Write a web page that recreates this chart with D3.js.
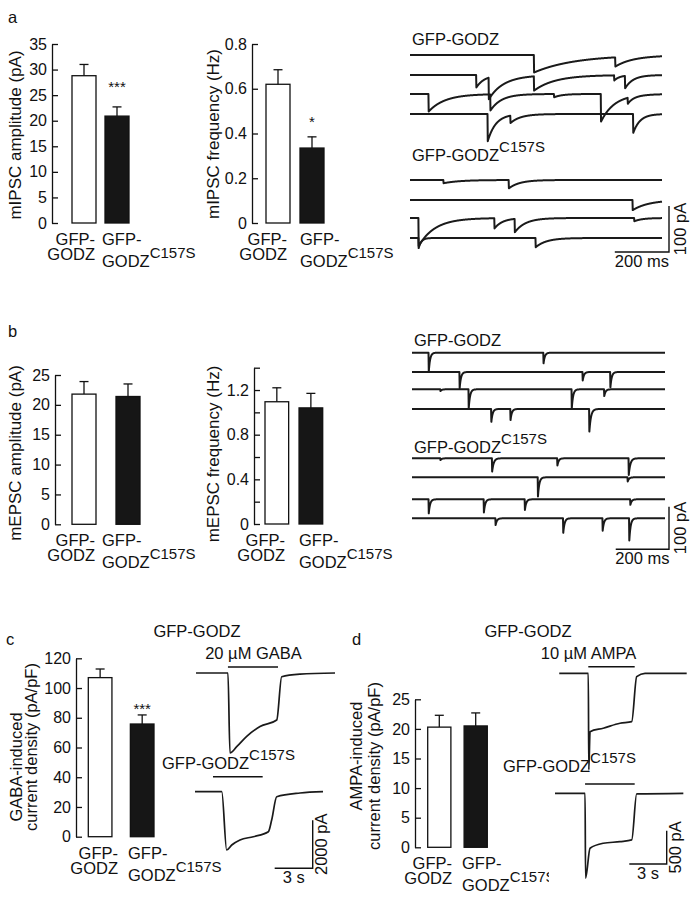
<!DOCTYPE html>
<html>
<head>
<meta charset="utf-8">
<script src="https://cdn.jsdelivr.net/npm/d3@7"></script>
<style>
  body { margin: 0; background: #fff; }
  svg { display: block; font-family: "Liberation Sans", Arial, Helvetica, sans-serif; }
  text { fill: #111; }
</style>
</head>
<body>
<svg id="fig" width="700" height="912"></svg>
<script>
const groups = ["GFP-GODZ", "GFP-GODZC157S"];

// bar heights (mean) and error bars (sem)
const mipscAmp = [28.8, 20.9], mipscAmpSem = [2.2, 1.8];
const mipscFreq = [0.62, 0.335], mipscFreqSem = [0.065, 0.05];
const mepscAmp = [21.8, 21.4], mepscAmpSem = [2.1, 2.1];
const mepscFreq = [1.095, 1.04], mepscFreqSem = [0.125, 0.13];
const gabaDensity = [107, 75.8], gabaDensitySem = [5.8, 6.1];
const ampaDensity = [20.3, 20.5], ampaDensitySem = [2.0, 2.2];

// axis ticks
const mipscAmpTicks = [0, 5, 10, 15, 20, 25, 30, 35];
const mipscFreqTicks = [0, 0.2, 0.4, 0.6, 0.8];
const mepscAmpTicks = [0, 5, 10, 15, 20, 25];
const mepscFreqTicks = [0, 0.2, 0.4, 0.6, 0.8, 1.0, 1.2, 1.4];
const mepscFreqLabels = ["0", "", "0.4", "", "0.8", "", "1.2", ""];
const gabaTicks = [0, 20, 40, 60, 80, 100, 120];
const ampaTicks = [0, 5, 10, 15, 20, 25];

// example sweeps: each event is [onset ms, amplitude pA, decay ms]
const mipscGodz = [
  [[457, 38, 150], [757, 20, 60]],
  [[244, 27, 30], [290, 47, 60], [457, 31, 80], [753, 11, 20], [793, 27, 30]],
  [[68, 38, 60], [296, 35, 40], [531, 7, 30], [704, 60, 50], [803, 13, 20]],
  [[286, 59, 30], [370, 16, 40], [823, 41, 25]]
];
const mipscMut = [
  [[123, 7, 60], [364, 18, 40]],
  [[821, 22, 60]],
  [[31, 61, 60], [311, 22, 30], [386, 29, 40], [827, 7, 30]],
  [[31, 22, 10], [463, 20, 40]]
];
const mepscGodz = [
  [[62, 45, 5], [493, 25, 5]],
  [[178, 38, 5], [640, 20, 5], [744, 36, 5]],
  [[106, 4, 5], [212, 45, 5], [599, 45, 5], [721, 16, 5]],
  [[297, 30, 5], [369, 26, 5], [665, 53, 6]]
];
const mepscMut = [
  [[106, 4, 5], [300, 31, 6], [545, 17, 5], [813, 39, 6]],
  [[472, 45, 5], [809, 10, 5]],
  [[62, 33, 5], [269, 31, 5], [423, 25, 5], [819, 13, 5]],
  [[313, 16, 5], [567, 34, 5], [715, 29, 5], [815, 52, 5]]
];

// whole-cell responses: [time s, current pA]
const gabaGodzTrace = [[0.08, 0], [2.60, 0], [2.76, -3333], [3.29, -3071], [4.08, -2640], [5.13, -2230],
  [6.45, -1958], [6.84, -154], [8.29, -50], [11.05, 0]];
const gabaMutTrace = [[0, 0], [2.11, 0], [2.50, -2429], [2.90, -2221], [3.55, -2013], [4.60, -1875],
  [5.79, -1667], [6.05, -1180], [6.45, -208], [8.29, -54], [10.1, 0]];
const ampaGodzTrace = [[0.34, 0], [2.67, 0], [2.71, -1450], [2.81, -876], [3.87, -825], [5.21, -750],
  [6.15, -726], [6.55, -51], [7.22, 0], [10.56, 0]];
const ampaMutTrace = [[0, 0], [2.41, 0], [2.45, -1275], [2.81, -825], [3.87, -750], [5.21, -726],
  [6.15, -700], [6.55, -10], [10.29, 0]];
// drug application periods [start s, end s]
const gabaApply = [[2.60, 6.55], [1.42, 5.34]];
const ampaApply = [[2.67, 6.39], [2.41, 6.39]];

const svg = d3.select("#fig");
const ink = "#111";

function label(x, y, txt, size, anchor) {
  return svg.append("text").attr("x", x).attr("y", y)
    .attr("font-size", size || 16.5)
    .attr("text-anchor", anchor || "start")
    .text(txt);
}

function supLabel(x, y, main, sup, size) {
  const t = svg.append("text").attr("x", x).attr("y", y).attr("font-size", size || 16.5);
  t.append("tspan").text(main);
  t.append("tspan").attr("dy", -9).attr("font-size", 15).text(sup);
  return t;
}

function barChart(c) {
  const g = svg.append("g");
  const y = d3.scaleLinear().domain([0, c.max]).range([c.y0, c.y1]);
  const x = d3.scaleBand().domain(groups).range(c.xr).paddingInner(c.pad);

  const ax = g.append("g")
    .attr("transform", `translate(${c.ax},0)`)
    .call(d3.axisLeft(y).tickValues(c.ticks)
      .tickFormat((d, i) => c.labels ? c.labels[i] : d)
      .tickSizeInner(-6).tickSizeOuter(0).tickPadding(5));
  ax.attr("font-size", 16).attr("font-family", null);
  ax.selectAll("path, line").attr("stroke", ink).attr("stroke-width", 1.3);
  ax.selectAll("text").attr("fill", ink);

  g.selectAll("rect.bar")
    .data(c.values)
    .join("rect")
    .attr("class", "bar")
    .attr("x", (d, i) => x(groups[i]))
    .attr("width", x.bandwidth())
    .attr("y", d => y(d))
    .attr("height", d => y(0) - y(d))
    .attr("fill", (d, i) => i === 0 ? "#fff" : "#161616")
    .attr("stroke", ink)
    .attr("stroke-width", 1.3);

  const err = g.selectAll("g.err")
    .data(c.values)
    .join("g")
    .attr("class", "err")
    .attr("stroke", ink)
    .attr("stroke-width", 1.3);
  err.append("line")
    .attr("x1", (d, i) => x(groups[i]) + x.bandwidth() / 2)
    .attr("x2", (d, i) => x(groups[i]) + x.bandwidth() / 2)
    .attr("y1", d => y(d))
    .attr("y2", (d, i) => y(d + c.sem[i]));
  err.append("line")
    .attr("x1", (d, i) => x(groups[i]) + x.bandwidth() / 2 - 4.5)
    .attr("x2", (d, i) => x(groups[i]) + x.bandwidth() / 2 + 4.5)
    .attr("y1", (d, i) => y(d + c.sem[i]))
    .attr("y2", (d, i) => y(d + c.sem[i]));

  if (c.stars) {
    label(x(groups[1]) + x.bandwidth() / 2, c.starY, c.stars, 15, "middle");
  }

  // group names under the bars
  label(c.labX[0], c.y0 + 22, "GFP-", 16.5, "end");
  label(c.labX[0], c.y0 + 37, "GODZ", 16.5, "end");
  label(c.labX[1], c.y0 + 22, "GFP-");
  const mut = supLabel(c.labX[1], c.y0 + 44, "GODZ", "C157S");
  if (c.clip) {
    svg.append("clipPath").attr("id", c.clip.id)
      .append("rect").attr("x", 0).attr("y", 0).attr("width", c.clip.w).attr("height", 912);
    mut.attr("clip-path", `url(#${c.clip.id})`);
  }

  c.ylab.forEach(l => {
    svg.append("text")
      .attr("transform", `translate(${l.x},${l.y}) rotate(-90)`)
      .attr("text-anchor", "middle")
      .attr("font-size", l.size || 17)
      .text(l.text);
  });
}

function eventSweep(events, dur) {
  const pts = [];
  for (let t = 0; t <= dur; t += 0.5) {
    let v = 0;
    for (const [t0, a, tau] of events) {
      if (t < t0) continue;
      const dt = t - t0;
      v -= dt < 1 ? a * dt : a * Math.exp(-(dt - 1) / tau);
    }
    pts.push([t, v]);
  }
  return pts;
}

function scaleBar(cx, cy, hLen, vLen, hText, vText, hTextY, vTextX) {
  svg.append("path")
    .attr("d", `M${cx - hLen},${cy}H${cx}V${cy - vLen}`)
    .attr("fill", "none").attr("stroke", ink).attr("stroke-width", 1.4);
  label(cx - hLen / 2, hTextY, hText, 16.5, "middle");
  svg.append("text")
    .attr("transform", `translate(${vTextX},${cy - vLen / 2}) rotate(-90)`)
    .attr("text-anchor", "middle").attr("font-size", 16.5)
    .text(vText);
}

function miniSweeps(p) {
  const x = d3.scaleLinear().domain([0, p.dur]).range(p.xr);
  const y = d3.scaleLinear().domain([0, 100]).range([0, p.px100]);
  [[p.godz, p.baseGodz], [p.mut, p.baseMut]].forEach(([set, bases]) => {
    set.forEach((ev, i) => {
      const line = d3.line().x(d => x(d[0])).y(d => bases[i] - y(d[1]));
      svg.append("path")
        .attr("d", line(eventSweep(ev, p.dur)))
        .attr("fill", "none").attr("stroke", "#1a1a1a")
        .attr("stroke-width", 2).attr("stroke-linejoin", "round");
    });
  });
  label(p.xr[0] + 2, p.titleY[0], "GFP-GODZ");
  supLabel(p.xr[0] + 2, p.titleY[1], "GFP-GODZ", "C157S");
  scaleBar(p.bar[0], p.bar[1], x(200) - x(0), y(100), "200 ms", "100 pA", p.bar[1] + 15, p.bar[0] + 17);
}

function wholeCell(p) {
  const x = d3.scaleLinear().domain([0, p.dur]).range(p.xr);
  const y = d3.scaleLinear().domain([0, 1000]).range([0, p.px1000]);
  const line = d3.line().curve(d3.curveMonotoneX);
  [[p.godz, p.bases[0]], [p.mut, p.bases[1]]].forEach(([tr, base], i) => {
    svg.append("path")
      .attr("d", line.x(d => x(d[0])).y(d => base - y(d[1]))(tr))
      .attr("fill", "none").attr("stroke", "#1a1a1a").attr("stroke-width", 1.7);
    svg.append("line")
      .attr("x1", x(p.apply[i][0])).attr("x2", x(p.apply[i][1]))
      .attr("y1", p.applyY[i]).attr("y2", p.applyY[i])
      .attr("stroke", ink).attr("stroke-width", 1.4);
  });
  scaleBar(p.bar[0], p.bar[1], x(3) - x(0), y(p.vUnit), "3 s", p.vUnit + " pA", p.bar[1] + 14.5, p.bar[0] + 14);
}

// ---- panel a ----
label(8, 23, "a", 16.5);
barChart({
  values: mipscAmp, sem: mipscAmpSem, max: 35, ticks: mipscAmpTicks,
  y0: 223, y1: 44, ax: 52, xr: [72, 129], pad: 9 / 33,
  stars: "***", starY: 92, labX: [95, 102],
  ylab: [{ text: "mIPSC amplitude (pA)", x: 21, y: 135 }]
});
barChart({
  values: mipscFreq, sem: mipscFreqSem, max: 0.8, ticks: mipscFreqTicks,
  y0: 223, y1: 44, ax: 252, xr: [266, 324], pad: 10 / 34,
  stars: "*", starY: 127, labX: [287, 300],
  ylab: [{ text: "mIPSC frequency (Hz)", x: 219, y: 134 }]
});
miniSweeps({
  godz: mipscGodz, mut: mipscMut, dur: 930, xr: [410, 662], px100: 46,
  baseGodz: [55, 75, 94, 114], baseMut: [180, 200, 218, 238],
  titleY: [45, 161], bar: [669, 252]
});

// ---- panel b ----
label(8, 337, "b", 16.5);
barChart({
  values: mepscAmp, sem: mepscAmpSem, max: 25, ticks: mepscAmpTicks,
  y0: 524.3, y1: 375, ax: 55, xr: [72, 140], pad: 20 / 44,
  labX: [95, 102],
  ylab: [{ text: "mEPSC amplitude (pA)", x: 21, y: 453 }]
});
barChart({
  values: mepscFreq, sem: mepscFreqSem, max: 1.4, ticks: mepscFreqTicks, labels: mepscFreqLabels,
  y0: 524, y1: 367.7, ax: 254, xr: [265, 322.7], pad: 0.305,
  labX: [285, 299],
  ylab: [{ text: "mEPSC frequency (Hz)", x: 219, y: 454 }]
});
miniSweeps({
  godz: mepscGodz, mut: mepscMut, dur: 950, xr: [412, 665], px100: 42.6,
  baseGodz: [352.7, 372, 389.3, 409], baseMut: [458.3, 477.3, 499.3, 518.3],
  titleY: [346, 452.7], bar: [669, 549.3]
});

// ---- panel c ----
label(6, 645, "c", 16.5);
barChart({
  values: gabaDensity, sem: gabaDensitySem, max: 120, ticks: gabaTicks,
  y0: 836.7, y1: 658.3, ax: 76, xr: [88.3, 154], pad: 0.438,
  stars: "***", starY: 714, labX: [118, 128],
  ylab: [{ text: "GABA-induced", x: 22, y: 767, size: 16.5 },
         { text: "current density (pA/pF)", x: 37, y: 747, size: 16.5 }]
});
label(197, 637, "GFP-GODZ", 16.5, "middle");
label(253.5, 659, "20 \u00b5M GABA", 16.5, "middle");
supLabel(162, 769, "GFP-GODZ", "C157S");
wholeCell({
  godz: gabaGodzTrace, mut: gabaMutTrace, dur: 11, xr: [195, 334.4], px1000: 24,
  bases: [673, 791.7], apply: gabaApply, applyY: [667, 776.7],
  bar: [312.7, 868.3], vUnit: 2000
});

// ---- panel d ----
label(352, 645, "d", 16.5);
barChart({
  values: ampaDensity, sem: ampaDensitySem, max: 25, ticks: ampaTicks,
  y0: 847.3, y1: 699.3, ax: 415, xr: [427.7, 487.3], pad: 0.363,
  labX: [452, 462], clip: { id: "cutD", w: 549 },
  ylab: [{ text: "AMPA-induced", x: 362, y: 756, size: 16.5 },
         { text: "current density (pA/pF)", x: 380, y: 766, size: 16.5 }]
});
label(528, 637, "GFP-GODZ", 16.5, "middle");
label(588.5, 659, "10 \u00b5M AMPA", 16.5, "middle");
supLabel(503, 772, "GFP-GODZ", "C157S");
wholeCell({
  godz: ampaGodzTrace, mut: ampaMutTrace, dur: 10.6, xr: [555, 687.2], px1000: 66.6,
  bases: [673.3, 793.3], apply: ampaApply, applyY: [666.7, 784],
  bar: [666.7, 864], vUnit: 500
});
</script>
</body>
</html>
